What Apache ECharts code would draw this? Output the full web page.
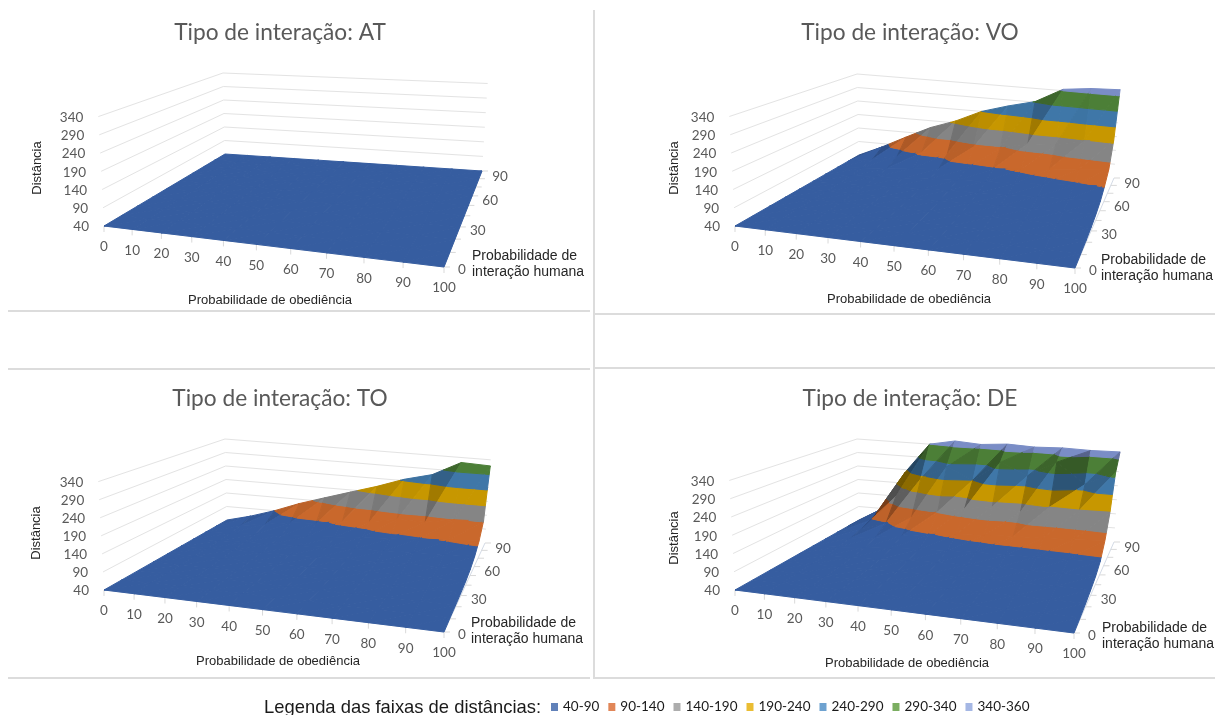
<!DOCTYPE html>
<html>
<head>
<meta charset="utf-8">
<style>
  html, body { margin:0; padding:0; background:#fff; }
  #main { width:1215px; height:715px; }
</style>
<script src="https://cdn.jsdelivr.net/npm/echarts@6/dist/echarts.min.js"></script>
</head>
<body>
<div id="main"></div>
<script>
// eixos
const probObediencia = [0, 10, 20, 30, 40, 50, 60, 70, 80, 90, 100]
const probInteracao = [0, 10, 20, 30, 40, 50, 60, 70, 80, 90]
const interacaoLabels = [0, 30, 60, 90]
const distTicks = [40, 90, 140, 190, 240, 290, 340]

// faixas da legenda
const faixaNomes = ['40-90', '90-140', '140-190', '190-240', '240-290', '290-340', '340-360']
const faixaLimites = [40, 90, 140, 190, 240, 290, 340, 360]
const faixaCores = ['#365da0', '#c9682c', '#858585', '#c79700', '#3f77a8', '#4c7f37', '#7a8dc6']
const legendaCores = ['#3a62a8', '#d9682e', '#999999', '#e5ac00', '#4a8bc4', '#5a9a3a', '#8fa5dd']

// distancia: uma linha por probabilidade de interacao (0..90), uma coluna por obediencia (0..100)
const distAT = [
  [40, 40, 40, 40, 40, 40, 40, 40, 40, 40, 40],
  [40, 40, 40, 40, 40, 40, 40, 40, 40, 40, 40],
  [40, 40, 40, 40, 40, 40, 40, 40, 40, 40, 40],
  [40, 40, 40, 40, 40, 40, 40, 40, 40, 40, 40],
  [40, 40, 40, 40, 40, 40, 40, 40, 40, 40, 40],
  [40, 40, 40, 40, 40, 40, 40, 40, 40, 40, 40],
  [40, 40, 40, 40, 40, 40, 40, 40, 40, 40, 40],
  [40, 40, 40, 40, 40, 40, 40, 40, 40, 40, 40],
  [40, 40, 40, 40, 40, 40, 40, 40, 40, 40, 40],
  [40, 40, 40, 40, 40, 40, 40, 40, 40, 40, 40]
]
const distVO = [
  [40, 40, 40, 40, 40, 40, 40, 40, 40, 40, 40],
  [40, 41, 41, 42, 42, 42, 42, 43, 43, 43, 43],
  [40, 41, 42, 42, 43, 43, 44, 44, 45, 45, 46],
  [40, 42, 43, 44, 45, 46, 47, 48, 49, 50, 51],
  [40, 42, 44, 46, 48, 50, 52, 54, 55, 57, 58],
  [40, 43, 46, 49, 52, 55, 58, 61, 64, 67, 70],
  [40, 44, 49, 53, 58, 63, 68, 72, 78, 84, 92],
  [40, 46, 54, 62, 70, 78, 86, 95, 104, 112, 122],
  [40, 54, 72, 96, 100, 132, 135, 160, 165, 188, 198],
  [40, 78, 122, 165, 197, 240, 268, 292, 345, 356, 360]
]
const distTO = [
  [40, 40, 40, 40, 40, 40, 40, 40, 40, 40, 40],
  [40, 41, 41, 41, 42, 42, 42, 42, 43, 43, 43],
  [40, 41, 41, 42, 42, 43, 43, 44, 44, 45, 45],
  [40, 41, 42, 43, 44, 44, 45, 46, 47, 47, 48],
  [40, 41, 43, 44, 45, 46, 48, 49, 50, 51, 52],
  [40, 42, 44, 46, 48, 50, 52, 54, 56, 58, 60],
  [40, 43, 46, 49, 52, 56, 60, 63, 67, 70, 74],
  [40, 45, 50, 55, 60, 66, 72, 80, 86, 92, 98],
  [40, 50, 62, 76, 82, 98, 104, 122, 120, 138, 142],
  [40, 62, 90, 124, 153, 182, 211, 245, 270, 322, 318]
]
const distDE = [
  [40, 40, 40, 40, 40, 40, 40, 40, 40, 40, 40],
  [40, 41, 41, 42, 42, 43, 43, 43, 44, 44, 44],
  [40, 41, 43, 44, 45, 46, 47, 47, 48, 49, 49],
  [40, 42, 44, 46, 48, 50, 52, 53, 54, 55, 56],
  [40, 43, 47, 50, 54, 57, 59, 61, 62, 63, 65],
  [40, 45, 52, 58, 64, 69, 72, 74, 76, 78, 82],
  [40, 50, 62, 74, 88, 96, 102, 108, 110, 114, 122],
  [40, 60, 88, 115, 142, 160, 175, 165, 190, 188, 190],
  [40, 70, 160, 230, 280, 240, 310, 270, 325, 255, 305],
  [40, 88, 230, 340, 358, 352, 360, 356, 360, 358, 360]
]

const paineis = [
  { titulo: 'Tipo de interação: AT', dist: distAT, left: 0, top: 0, width: 600,
    fl: [104, 226], fr: [444, 267], br: [482, 171], bl: [225, 154],
    tituloX: 275, tituloY: 18, nomeX: [270, 300], nomeH: [472, 264], nomeD: [37, 168] },
  { titulo: 'Tipo de interação: VO', dist: distVO, left: 600, top: 0, width: 615,
    fl: [135, 226], fr: [475, 268], br: [514, 178], bl: [259, 155],
    tituloX: 305, tituloY: 18, nomeX: [309, 299], nomeH: [501, 268], nomeD: [74, 168] },
  { titulo: 'Tipo de interação: TO', dist: distTO, left: 0, top: 365, width: 600,
    fl: [104, 225], fr: [444, 267], br: [485, 178], bl: [227, 155],
    tituloX: 275, tituloY: 19, nomeX: [278, 296], nomeH: [471, 266], nomeD: [36, 168] },
  { titulo: 'Tipo de interação: DE', dist: distDE, left: 600, top: 365, width: 615,
    fl: [135, 225], fr: [474, 268], br: [514, 177], bl: [259, 155],
    tituloX: 305, tituloY: 19, nomeX: [307, 298], nomeH: [502, 271], nomeD: [74, 173] }
]
const panelH = 350

// homografia do quadrado unitario para os 4 cantos do chao (Heckbert)
function makeProjection(pn) {
  const [x0, y0] = pn.fl, [x1, y1] = pn.fr, [x2, y2] = pn.br, [x3, y3] = pn.bl
  const dx1 = x1 - x2, dx2 = x3 - x2, sx = x0 - x1 + x2 - x3
  const dy1 = y1 - y2, dy2 = y3 - y2, sy = y0 - y1 + y2 - y3
  const den = dx1 * dy2 - dx2 * dy1
  const g = (sx * dy2 - dx2 * sy) / den
  const h = (dx1 * sy - sx * dy1) / den
  const a = x1 - x0 + g * x1, b = x3 - x0 + h * x3
  const d = y1 - y0 + g * y1, e = y3 - y0 + h * y3
  const wBack = h + 1
  const cx = (x0 + x2) / 2
  return function (u, v, dist) {
    const w = g * u + h * v + 1
    const fx = (a * u + b * v + x0) / w
    const fy = (d * u + e * v + y0) / w
    const zn = (dist - 40) / 300
    return [fx + zn * 0.03 * (fx - cx), fy - zn * 81 * (1 - 0.07 * u) * wBack / w]
  }
}

function clipBand(tri, lo, hi) {
  const cut = (poly, lim, keepAbove) => {
    const out = []
    for (let i = 0; i < poly.length; i++) {
      const p = poly[i], q = poly[(i + 1) % poly.length]
      const pIn = keepAbove ? p[2] >= lim : p[2] <= lim
      const qIn = keepAbove ? q[2] >= lim : q[2] <= lim
      if (pIn) out.push(p)
      if (pIn !== qIn) {
        const t = (lim - p[2]) / (q[2] - p[2])
        out.push([p[0] + t * (q[0] - p[0]), p[1] + t * (q[1] - p[1]), lim])
      }
    }
    return out
  }
  return cut(cut(tri, lo, true), hi, false)
}

function darken(hex, f) {
  const n = parseInt(hex.slice(1), 16)
  const c = [(n >> 16) & 255, (n >> 8) & 255, n & 255].map(x => Math.round(x * f))
  return 'rgb(' + c.join(',') + ')'
}

function triShade(t) {
  // declive na direcao da obediencia escurece a faceta
  const [A, B, C] = t
  const ux = B[0] - A[0], uy = B[1] - A[1], uz = (B[2] - A[2]) / 300
  const vx = C[0] - A[0], vy = C[1] - A[1], vz = (C[2] - A[2]) / 300
  const nx = uy * vz - uz * vy, ny = uz * vx - ux * vz, nz = ux * vy - uy * vx
  const gu = Math.abs(nx / nz)
  return 1 - Math.min(0.42, Math.max(0, gu - 0.6) * 0.17)
}

function renderPainel(pn) {
  const proj = makeProjection(pn)
  const nP = probObediencia.length, nH = probInteracao.length
  return function (params, api) {
    const P = (u, v, dist) => api.coord(proj(u, v, dist))
    const kids = []
    const line = (a, b, color) => kids.push({
      type: 'line', silent: true,
      shape: { x1: a[0], y1: a[1], x2: b[0], y2: b[1] },
      style: { stroke: color, lineWidth: 1 }
    })
    const text = (t, pos, o) => kids.push({
      type: 'text', silent: true, x: pos[0], y: pos[1], rotation: o.rotation || 0,
      style: Object.assign({ text: String(t), fill: '#595959', font: '13.5px Lato', align: 'center', verticalAlign: 'middle' }, o.style)
    })
    // paredes
    distTicks.slice(1).forEach(z => {
      line(P(0, 0, z), P(0, 1, z), '#e3e3e3')
      line(P(0, 1, z), P(1, 1, z), '#e3e3e3')
    })
    // eixos
    line(P(0, 0, 40), P(1, 0, 40), '#d4dbe6')
    line(P(1, 0, 40), P(1, 1, 40), '#d4dbe6')
    probObediencia.forEach(p => {
      const a = P(p / 100, 0, 40)
      line(a, [a[0], a[1] + 6], '#d9d9d9')
      text(p, [a[0], a[1] + 21], {})
    })
    probInteracao.forEach(h => {
      const a = P(1, h / 90, 40)
      line(a, [a[0] + 6, a[1]], '#d9d9d9')
      if (interacaoLabels.indexOf(h) >= 0) text(h, [a[0] + 18, a[1] + 3 + h / 30], {})
    })
    distTicks.forEach(z => {
      const a = P(0, 0, z)
      text(z, [a[0] - 15, a[1] + 1], { style: { align: 'right' } })
    })
    // superficie, de tras para a frente
    for (let r = nH - 2; r >= 0; r--) {
      for (let c = 0; c < nP - 1; c++) {
        const ca = [c / (nP - 1), r / (nH - 1), pn.dist[r][c]]
        const cb = [(c + 1) / (nP - 1), r / (nH - 1), pn.dist[r][c + 1]]
        const cc = [(c + 1) / (nP - 1), (r + 1) / (nH - 1), pn.dist[r + 1][c + 1]]
        const cd = [c / (nP - 1), (r + 1) / (nH - 1), pn.dist[r + 1][c]]
        const tris = [[cd, cc, ca], [ca, cb, cc]]
        tris.forEach(tri => {
          const f = triShade(tri)
          faixaCores.forEach((cor, i) => {
            const poly = clipBand(tri, faixaLimites[i], faixaLimites[i + 1])
            if (poly.length < 3) return
            const fill = darken(cor, f)
            kids.push({
              type: 'polygon', silent: true,
              shape: { points: poly.map(q => P(q[0], q[1], q[2])) },
              style: { fill: fill, stroke: fill, lineWidth: 1 }
            })
          })
        })
      }
    }
    // nomes dos eixos
    text('Probabilidade de obediência', api.coord(pn.nomeX), { style: { font: '13px "Liberation Sans"', fill: '#262626' } })
    text('Probabilidade de\ninteração humana', api.coord(pn.nomeH), { style: { font: '14px "Liberation Sans"', fill: '#262626', align: 'left', lineHeight: 16 } })
    text('Distância', api.coord(pn.nomeD), { rotation: Math.PI / 2, style: { font: '13px "Liberation Sans"', fill: '#262626' } })
    return { type: 'group', children: kids }
  }
}

const grids = [], xAxes = [], yAxes = [], series = [], titles = []
paineis.forEach((pn, i) => {
  grids.push({ left: pn.left, top: pn.top, width: pn.width, height: panelH })
  xAxes.push({ type: 'value', gridIndex: i, min: 0, max: pn.width, show: false })
  yAxes.push({ type: 'value', gridIndex: i, min: 0, max: panelH, inverse: true, show: false })
  series.push({
    type: 'custom', xAxisIndex: i, yAxisIndex: i, clip: false, silent: true,
    animation: false, data: [[0, 0]], renderItem: renderPainel(pn)
  })
  titles.push({
    text: pn.titulo, left: pn.left + pn.tituloX, top: pn.top + pn.tituloY - 2, textAlign: 'center',
    textStyle: { fontFamily: 'Lato', fontSize: 22.7, fontWeight: 'normal', color: '#595959' }
  })
})
titles.push({
  text: 'Legenda das faixas de distâncias:', left: 259, top: 694,
  textStyle: { fontFamily: 'Liberation Sans', fontSize: 18.4, fontWeight: 'normal', color: '#1a1a1a' }
})
// series vazias so para a legenda
faixaNomes.forEach((nome, i) => {
  series.push({ type: 'scatter', name: nome, data: [], itemStyle: { color: legendaCores[i] } })
})

const separador = (x1, y1, x2, y2) => ({
  type: 'line', silent: true, shape: { x1, y1, x2, y2 }, style: { stroke: '#dcdcdc', lineWidth: 2 }
})

const myChart = echarts.init(document.getElementById('main'), null, { renderer: 'canvas' })
myChart.setOption({
  backgroundColor: '#fff',
  animation: false,
  title: titles,
  grid: grids,
  xAxis: xAxes,
  yAxis: yAxes,
  tooltip: { show: false },
  legend: {
    left: 546, top: 695, itemWidth: 7, itemHeight: 8, itemGap: 9, icon: 'rect',
    data: faixaNomes, selectedMode: false,
    textStyle: { fontFamily: 'Lato', fontSize: 13.5, color: '#1a1a1a' }
  },
  graphic: [
    separador(8, 311, 590, 311),
    separador(595, 314, 1215, 314),
    separador(8, 369, 590, 369),
    separador(595, 368, 1215, 368),
    separador(8, 678, 590, 678),
    separador(595, 678, 1215, 678),
    separador(594, 10, 594, 679)
  ],
  series: series
})
</script>
</body>
</html>
